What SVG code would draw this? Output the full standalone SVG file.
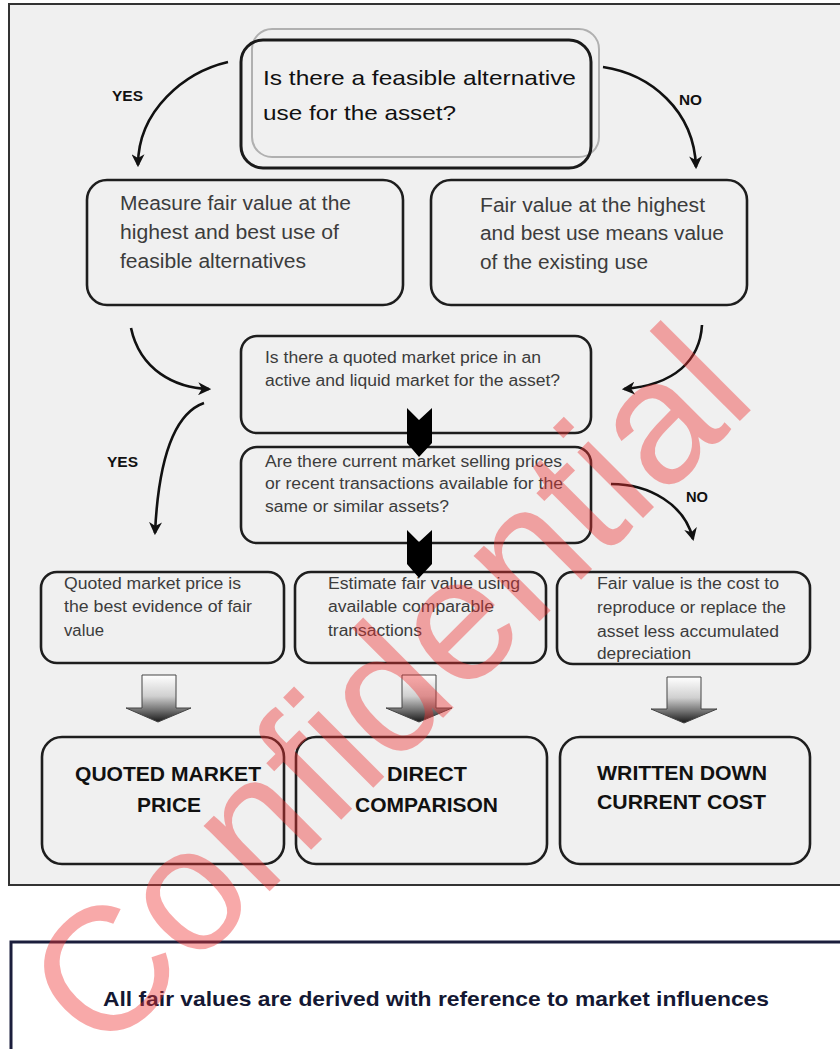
<svg xmlns="http://www.w3.org/2000/svg" width="840" height="1049" viewBox="0 0 840 1049">
<style>
.box{fill:none;stroke:#1e1e1e;stroke-width:2.6}
.t{font-family:"Liberation Sans",Arial,sans-serif;fill:#3c3c3c}
.lbl{font-family:"Liberation Sans",Arial,sans-serif;font-weight:bold;fill:#111}
.big{font-family:"Liberation Sans",Arial,sans-serif;font-weight:bold;font-size:21px;fill:#111}
.curve{fill:none;stroke:#111;stroke-width:2.6;marker-end:url(#ah)}
.chev{fill:#000}
.blk{fill:url(#gr);stroke:#444;stroke-width:1}
</style>
<defs>
<marker id="ah" viewBox="0 0 12 12" refX="10" refY="6" markerWidth="5" markerHeight="5" orient="auto" markerUnits="strokeWidth">
<path d="M0,0 L12,6 L0,12 L3.5,6 Z" fill="#111"/>
</marker>
<linearGradient id="gr" x1="0" y1="0" x2="0" y2="1">
<stop offset="0" stop-color="#ffffff"/>
<stop offset="0.45" stop-color="#d0d0d0"/>
<stop offset="0.75" stop-color="#707070"/>
<stop offset="1" stop-color="#1a1a1a"/>
</linearGradient>
</defs>
<rect x="0" y="0" width="840" height="1049" fill="#ffffff"/>
<rect x="9" y="4" width="900" height="881" fill="#f0f0f0" stroke="#333" stroke-width="2"/>

<g id="n-top">
<rect x="252" y="29" width="347" height="128" rx="20" fill="none" stroke="#b0b0b0" stroke-width="2"/>
<rect x="241" y="40" width="350" height="128" rx="22" fill="none" stroke="#1a1a1a" stroke-width="3"/>
<text class="t" style="fill:#111" font-size="21" x="263" y="85" textLength="313" lengthAdjust="spacingAndGlyphs">Is there a feasible alternative</text>
<text class="t" style="fill:#111" font-size="21" x="263" y="120" textLength="193" lengthAdjust="spacingAndGlyphs">use for the asset?</text>
</g>

<g id="n-measure">
<rect class="box" x="87" y="180" width="316" height="125" rx="20"/>
<text class="t" font-size="19.5" x="120" y="210" textLength="231" lengthAdjust="spacingAndGlyphs">Measure fair value at the</text>
<text class="t" font-size="19.5" x="120" y="239" textLength="219" lengthAdjust="spacingAndGlyphs">highest and best use of</text>
<text class="t" font-size="19.5" x="120" y="268" textLength="186" lengthAdjust="spacingAndGlyphs">feasible alternatives</text>
</g>

<g id="n-existing">
<rect class="box" x="431" y="180" width="316" height="125" rx="20"/>
<text class="t" font-size="19.5" x="480" y="212" textLength="225" lengthAdjust="spacingAndGlyphs">Fair value at the highest</text>
<text class="t" font-size="19.5" x="480" y="240" textLength="244" lengthAdjust="spacingAndGlyphs">and best use means value</text>
<text class="t" font-size="19.5" x="480" y="269" textLength="168" lengthAdjust="spacingAndGlyphs">of the existing use</text>
</g>

<g id="n-quoted-q">
<rect class="box" x="241" y="336" width="350" height="97" rx="16"/>
<text class="t" font-size="16" x="265" y="363" textLength="276" lengthAdjust="spacingAndGlyphs">Is there a quoted market price in an</text>
<text class="t" font-size="16" x="265" y="386" textLength="295" lengthAdjust="spacingAndGlyphs">active and liquid market for the asset?</text>
</g>

<g id="n-selling-q">
<rect class="box" x="241" y="447" width="350" height="96" rx="16"/>
<text class="t" font-size="16" x="265" y="467" textLength="297" lengthAdjust="spacingAndGlyphs">Are there current market selling prices</text>
<text class="t" font-size="16" x="265" y="489" textLength="298" lengthAdjust="spacingAndGlyphs">or recent transactions available for the</text>
<text class="t" font-size="16" x="265" y="512" textLength="184" lengthAdjust="spacingAndGlyphs">same or similar assets?</text>
</g>

<g id="n-quoted-ev">
<rect class="box" x="41" y="572" width="243" height="91" rx="16"/>
<text class="t" font-size="16" x="64" y="589" textLength="177" lengthAdjust="spacingAndGlyphs">Quoted market price is</text>
<text class="t" font-size="16" x="64" y="612" textLength="188" lengthAdjust="spacingAndGlyphs">the best evidence of fair</text>
<text class="t" font-size="16" x="64" y="636" textLength="40" lengthAdjust="spacingAndGlyphs">value</text>
</g>

<g id="n-estimate">
<rect class="box" x="295" y="572" width="251" height="91" rx="16"/>
<text class="t" font-size="16" x="328" y="589" textLength="192" lengthAdjust="spacingAndGlyphs">Estimate fair value using</text>
<text class="t" font-size="16" x="328" y="612" textLength="166" lengthAdjust="spacingAndGlyphs">available comparable</text>
<text class="t" font-size="16" x="328" y="636" textLength="94" lengthAdjust="spacingAndGlyphs">transactions</text>
</g>

<g id="n-cost">
<rect class="box" x="557" y="572" width="253" height="92" rx="16"/>
<text class="t" font-size="16" x="597" y="589" textLength="182" lengthAdjust="spacingAndGlyphs">Fair value is the cost to</text>
<text class="t" font-size="16" x="597" y="613" textLength="189" lengthAdjust="spacingAndGlyphs">reproduce or replace the</text>
<text class="t" font-size="16" x="597" y="637" textLength="182" lengthAdjust="spacingAndGlyphs">asset less accumulated</text>
<text class="t" font-size="16" x="597" y="659" textLength="94" lengthAdjust="spacingAndGlyphs">depreciation</text>
</g>

<g id="n-qmp">
<rect class="box" x="42" y="737" width="242" height="127" rx="20"/>
<text class="big" x="75" y="781" textLength="186" lengthAdjust="spacingAndGlyphs">QUOTED MARKET</text>
<text class="big" x="137" y="812" textLength="64" lengthAdjust="spacingAndGlyphs">PRICE</text>
</g>

<g id="n-direct">
<rect class="box" x="296" y="737" width="251" height="127" rx="20"/>
<text class="big" x="387" y="781" textLength="80" lengthAdjust="spacingAndGlyphs">DIRECT</text>
<text class="big" x="355" y="812" textLength="143" lengthAdjust="spacingAndGlyphs">COMPARISON</text>
</g>

<g id="n-wdcc">
<rect class="box" x="560" y="737" width="250" height="127" rx="20"/>
<text class="big" x="597" y="780" textLength="170" lengthAdjust="spacingAndGlyphs">WRITTEN DOWN</text>
<text class="big" x="597" y="809" textLength="169" lengthAdjust="spacingAndGlyphs">CURRENT COST</text>
</g>

<g id="connectors">
<path class="curve" d="M228,62 C185,72 138,110 138,165"/>
<path class="curve" d="M603,67 C650,74 694,110 696,167"/>
<path class="curve" d="M131,328 C140,370 175,388 209,389"/>
<path class="curve" d="M702,325 C700,360 675,385 624,389"/>
<path class="curve" d="M204,403 C170,415 158,470 155,533"/>
<path class="curve" d="M611,484 C650,484 685,505 693,539"/>
<polygon class="chev" points="407,408 419,420 432,408 432,443 419,457 407,443"/>
<polygon class="chev" points="407,530 419,542 432,530 432,564 419,578 407,564"/>
<path class="blk" d="M142,675 H176 V708 H191 L158,722 L126,708 H142 Z"/>
<path class="blk" d="M402,675 H436 V708 H452 L419,722 L386,708 H402 Z"/>
<path class="blk" d="M667,677 H701 V709 H717 L684,723 L651,709 H667 Z"/>
<text class="lbl" font-size="14" x="112" y="101" textLength="31" lengthAdjust="spacingAndGlyphs">YES</text>
<text class="lbl" font-size="14" x="679" y="105" textLength="23" lengthAdjust="spacingAndGlyphs">NO</text>
<text class="lbl" font-size="14" x="107" y="467" textLength="31" lengthAdjust="spacingAndGlyphs">YES</text>
<text class="lbl" font-size="14" x="686" y="502" textLength="22" lengthAdjust="spacingAndGlyphs">NO</text>
</g>

<g id="n-footer">
<rect x="11" y="942" width="900" height="200" fill="#ffffff" stroke="#1b1e3c" stroke-width="3"/>
<text x="103" y="1006" font-family="Liberation Sans, Arial, sans-serif" font-weight="bold" font-size="20.5" fill="#141833" textLength="666" lengthAdjust="spacingAndGlyphs">All fair values are derived with reference to market influences</text>
</g>

<text x="102" y="1059" transform="rotate(-45 102 1059)" font-family="Liberation Sans, Arial, sans-serif" font-size="176" fill="#ee3333" fill-opacity="0.42">Confidential</text>
</svg>
